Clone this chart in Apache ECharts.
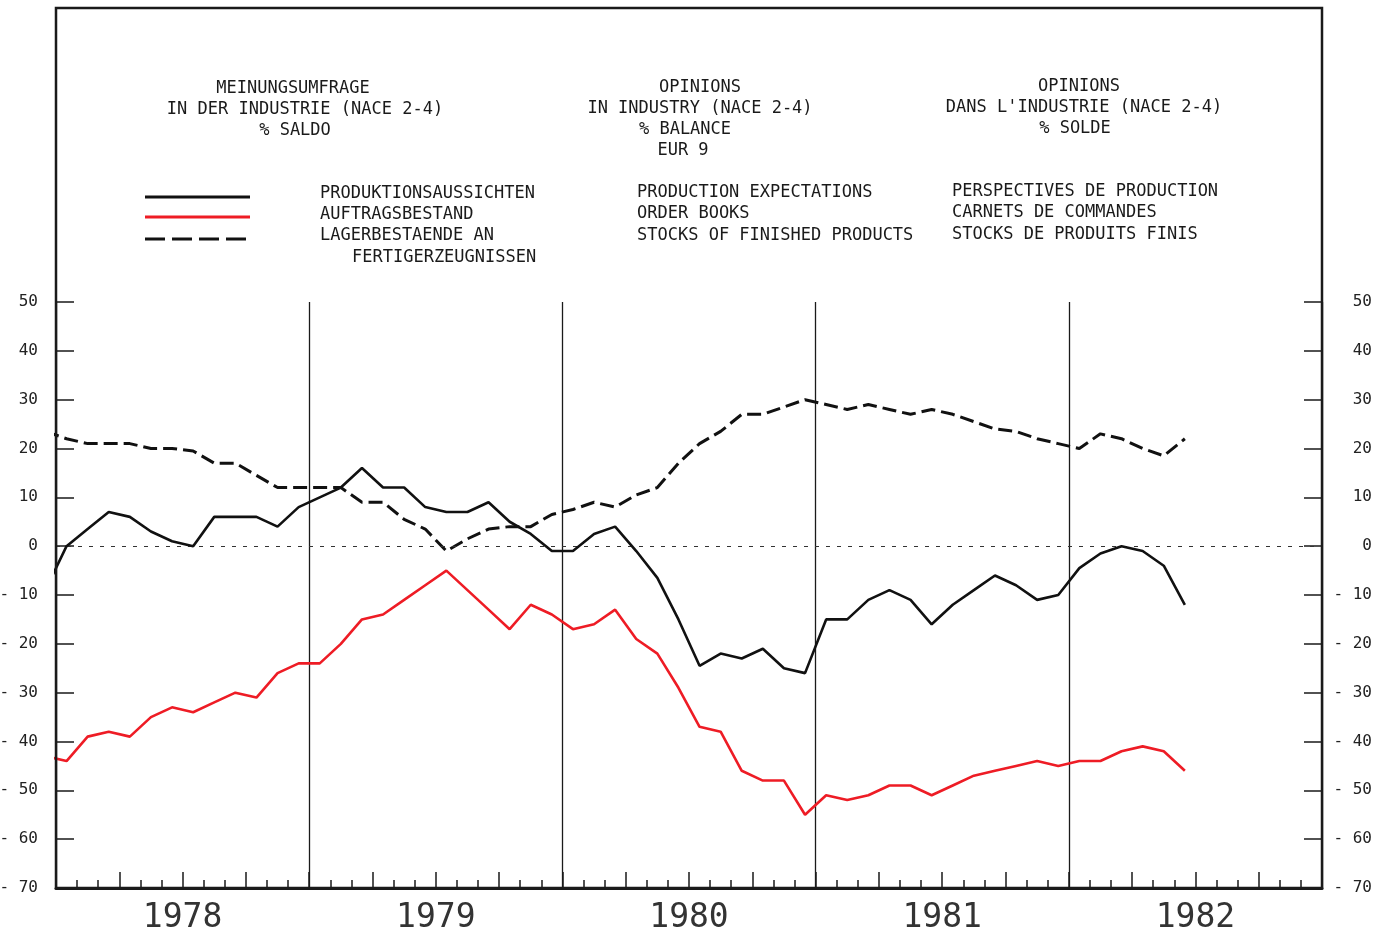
<!DOCTYPE html>
<html>
<head>
<meta charset="utf-8">
<script src="https://cdn.jsdelivr.net/npm/echarts@6/dist/echarts.min.js"></script>
<style>
html,body{margin:0;padding:0;background:#ffffff;}
#chart{width:1389px;height:937px;}
</style>
</head>
<body>
<div id="chart"></div>
<script>
// Month index: 0 = Jan 1978; values are plotted at mid-month. First value is Dec 1977 (clipped at the axis).
var firstMonth = -1;
var yearLabels = ['1978', '1979', '1980', '1981', '1982'];
var yTicks = [-70, -60, -50, -40, -30, -20, -10, 0, 10, 20, 30, 40, 50];

var production = [-9, 0, 3.5, 7, 6, 3, 1, 0, 6, 6, 6, 4, 8,
  10, 12, 16, 12, 12, 8, 7, 7, 9, 5, 2.5, -1,
  -1, 2.5, 4, -1, -6.5, -15, -24.5, -22, -23, -21, -25, -26,
  -15, -15, -11, -9, -11, -16, -12, -9, -6, -8, -11, -10,
  -4.5, -1.5, 0, -1, -4, -12];

var orderBooks = [-43, -44, -39, -38, -39, -35, -33, -34, -32, -30, -31, -26, -24,
  -24, -20, -15, -14, -11, -8, -5, -9, -13, -17, -12, -14,
  -17, -16, -13, -19, -22, -29, -37, -38, -46, -48, -48, -55,
  -51, -52, -51, -49, -49, -51, -49, -47, -46, -45, -44, -45,
  -44, -44, -42, -41, -42, -46];

var stocks = [23.5, 22, 21, 21, 21, 20, 20, 19.5, 17, 17, 14.5, 12, 12,
  12, 12, 9, 9, 5.5, 3.5, -1, 1.5, 3.5, 4, 4, 6.5,
  7.5, 9, 8, 10.5, 12, 17, 21, 23.5, 27, 27, 28.5, 30,
  29, 28, 29, 28, 27, 28, 27, 25.5, 24, 23.5, 22, 21,
  20, 23, 22, 20, 18.5, 22];

var titleDE = ['MEINUNGSUMFRAGE', 'IN DER INDUSTRIE (NACE 2-4)', '% SALDO'];
var titleEN = ['OPINIONS', 'IN INDUSTRY (NACE 2-4)', '% BALANCE', 'EUR 9'];
var titleFR = ['OPINIONS', "DANS L'INDUSTRIE (NACE 2-4)", '% SOLDE'];
var legendDE = ['PRODUKTIONSAUSSICHTEN', 'AUFTRAGSBESTAND', 'LAGERBESTAENDE AN', 'FERTIGERZEUGNISSEN'];
var legendEN = ['PRODUCTION EXPECTATIONS', 'ORDER BOOKS', 'STOCKS OF FINISHED PRODUCTS'];
var legendFR = ['PERSPECTIVES DE PRODUCTION', 'CARNETS DE COMMANDES', 'STOCKS DE PRODUITS FINIS'];

function toPairs(arr) {
  return arr.map(function (v, i) { return [firstMonth + i + 0.5, v]; });
}

var FONT = '"DejaVu Sans Mono", "Liberation Mono", monospace';
var INK = '#1a1a1a';

var chart = echarts.init(document.getElementById('chart'), null, { renderer: 'canvas' });

function txt(x, y, s, align, size) {
  return {
    type: 'text', x: x, y: y, silent: true,
    style: { text: s, fill: INK, font: (size || 17) + 'px ' + FONT, textAlign: align || 'center', textVerticalAlign: 'middle' }
  };
}

var graphics = [];
// outer frame
graphics.push({ type: 'rect', shape: { x: 56, y: 8, width: 1266, height: 880 },
  style: { fill: null, stroke: INK, lineWidth: 2.5 }, z: 10, silent: true });
// titles
[[293, 89], [305, 110], [295, 131]].forEach(function (p, i) { graphics.push(txt(p[0], p[1], titleDE[i])); });
[[700, 88], [700, 109], [685, 130], [683, 151]].forEach(function (p, i) { graphics.push(txt(p[0], p[1], titleEN[i])); });
[[1079, 87], [1084, 108], [1075, 129]].forEach(function (p, i) { graphics.push(txt(p[0], p[1], titleFR[i])); });
// legend texts
[[320, 194], [320, 215], [320, 236], [352, 258]].forEach(function (p, i) { graphics.push(txt(p[0], p[1], legendDE[i], 'left')); });
[[637, 193], [637, 214], [637, 236]].forEach(function (p, i) { graphics.push(txt(p[0], p[1], legendEN[i], 'left')); });
[[952, 192], [952, 213], [952, 235]].forEach(function (p, i) { graphics.push(txt(p[0], p[1], legendFR[i], 'left')); });
// legend samples
graphics.push({ type: 'line', shape: { x1: 145, y1: 197, x2: 250, y2: 197 }, style: { stroke: '#111', lineWidth: 3 }, silent: true });
graphics.push({ type: 'line', shape: { x1: 145, y1: 217, x2: 250, y2: 217 }, style: { stroke: '#ee1c25', lineWidth: 3 }, silent: true });
graphics.push({ type: 'line', shape: { x1: 145, y1: 239, x2: 250, y2: 239 }, style: { stroke: '#111', lineWidth: 3, lineDash: [20, 7] }, silent: true });

function yLabel(v) { return v < 0 ? '- ' + Math.abs(v) : String(v); }

var option = {
  backgroundColor: '#ffffff',
  animation: false,
  grid: { left: 56, right: 67, top: 302, bottom: 49, containLabel: false, outerBoundsMode: 'none' },
  xAxis: [
    {
      type: 'value', min: 0, max: 60, interval: 3,
      axisLine: { show: true, onZero: false, lineStyle: { color: INK, width: 3 } },
      axisTick: { show: true, inside: true, length: 16, lineStyle: { color: INK, width: 1.5 } },
      minorTick: { show: true, splitNumber: 3, length: 8, lineStyle: { color: INK, width: 1.5 } },
      splitLine: { show: false },
      axisLabel: {
        show: true, margin: 14, fontFamily: FONT, fontSize: 33, color: '#333',
        showMinLabel: true, showMaxLabel: true, hideOverlap: false,
        formatter: function (v) {
          if (v % 12 === 6) { return yearLabels[(v - 6) / 12] || ''; }
          return '';
        }
      }
    },
    {
      type: 'value', min: 0, max: 60, interval: 12, position: 'bottom',
      axisLine: { show: false, onZero: false }, axisTick: { show: false }, axisLabel: { show: false },
      splitLine: { show: true, lineStyle: { color: INK, width: 1.3, type: 'solid' } }
    }
  ],
  yAxis: [
    {
      type: 'value', min: yTicks[0], max: yTicks[yTicks.length - 1], interval: 10, position: 'left',
      axisLine: { show: false, onZero: false },
      axisTick: { show: true, inside: true, length: 18, lineStyle: { color: INK, width: 1.5 } },
      splitLine: { show: false },
      axisLabel: { margin: 18, fontFamily: FONT, fontSize: 16, color: '#222', formatter: yLabel }
    },
    {
      type: 'value', min: yTicks[0], max: yTicks[yTicks.length - 1], interval: 10, position: 'right',
      axisLine: { show: false, onZero: false },
      axisTick: { show: true, inside: true, length: 18, lineStyle: { color: INK, width: 1.5 } },
      splitLine: { show: false },
      axisLabel: { margin: 50, align: 'right', fontFamily: FONT, fontSize: 16, color: '#222', formatter: yLabel }
    }
  ],
  graphic: graphics,
  series: [
    {
      name: 'PRODUKTIONSAUSSICHTEN', type: 'line', data: toPairs(production),
      symbol: 'none', clip: true, z: 5,
      lineStyle: { color: '#111', width: 2.6 },
      markLine: {
        silent: true, symbol: 'none', label: { show: false },
        lineStyle: { color: '#333', width: 1, type: [4, 7] },
        data: [{ yAxis: 0 }]
      }
    },
    {
      name: 'AUFTRAGSBESTAND', type: 'line', data: toPairs(orderBooks),
      symbol: 'none', clip: true, z: 4,
      lineStyle: { color: '#ee1c25', width: 2.6 }
    },
    {
      name: 'LAGERBESTAENDE AN FERTIGERZEUGNISSEN', type: 'line', data: toPairs(stocks),
      symbol: 'none', clip: true, z: 4,
      lineStyle: { color: '#111', width: 3, type: [14, 6] }
    }
  ]
};
chart.setOption(option);
</script>
</body>
</html>
